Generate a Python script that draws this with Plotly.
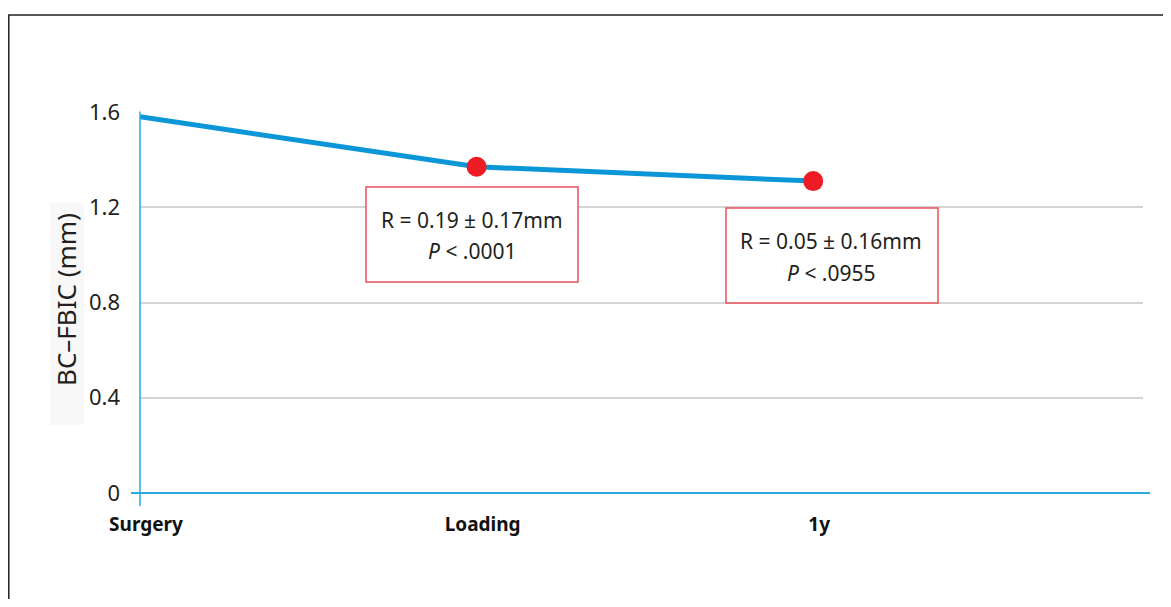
import plotly.graph_objects as go

# ---- data ----
categories = ["Surgery", "Loading", "1y"]
bc_fbic = [1.58, 1.37, 1.31]
dot_categories = ["Loading", "1y"]
dot_values = [1.37, 1.31]
y_ticks = [0, 0.4, 0.8, 1.2, 1.6]
y_tick_labels = ["0", "0.4", "0.8", "1.2", "1.6"]
box_line1 = ["R = 0.19 ± 0.17mm", "R = 0.05 ± 0.16mm"]
box_line2 = ["<i>P</i> < .0001", "<i>P</i> < .0955"]
y_title = "BC–FBIC (mm)"

# ---- layout geometry (screen pixels; page body has an 8px margin) ----
OFF = 8
WIN_W, WIN_H = 1171, 607
W, H = WIN_W - 2 * OFF, WIN_H - 2 * OFF
L, R, T, B = 140, 1143, 112, 493  # plot area in screen pixels


def px(x):
    return (x - L) / (R - L)


def py(y):
    return (B - y) / (B - T)


FONT = "Noto Sans"
TXT = "#231f20"
AXIS_BLUE = "#27aae1"
LINE_BLUE = "#0b96d8"
RED = "#ed1c24"
BOX_RED = "#e9505a"

fig = go.Figure()
fig.add_trace(go.Scatter(
    x=categories, y=bc_fbic, mode="lines",
    line=dict(color=LINE_BLUE, width=5), cliponaxis=False, hoverinfo="skip"))
fig.add_trace(go.Scatter(
    x=dot_categories, y=dot_values, mode="markers",
    marker=dict(color=RED, size=20, line=dict(width=0)), cliponaxis=False))

shapes = []
# outer frame
shapes.append(dict(type="rect", xref="paper", yref="paper",
                   x0=px(8.8), x1=px(1300), y0=py(800), y1=py(15),
                   line=dict(color=TXT, width=1.5), fillcolor="rgba(0,0,0,0)", layer="below"))
# faint background behind y title
shapes.append(dict(type="rect", xref="paper", yref="paper",
                   x0=px(50), x1=px(84), y0=py(425), y1=py(203),
                   line=dict(width=0), fillcolor="#f8f8f8", layer="below"))
# axis lines
shapes.append(dict(type="line", xref="paper", yref="paper",
                   x0=px(140), x1=px(140), y0=py(506), y1=py(111.5),
                   line=dict(color=AXIS_BLUE, width=1.5)))
shapes.append(dict(type="line", xref="paper", yref="paper",
                   x0=px(131), x1=px(1150), y0=py(493), y1=py(493),
                   line=dict(color=AXIS_BLUE, width=2)))
# annotation boxes
boxes = [(366, 578, 187, 282), (726, 938, 208, 303)]
for (x0, x1, y0, y1) in boxes:
    shapes.append(dict(type="rect", xref="paper", yref="paper",
                       x0=px(x0), x1=px(x1), y0=py(y1), y1=py(y0),
                       line=dict(color=BOX_RED, width=1.5), fillcolor="white", layer="above"))

annotations = []
text_centers = [(472, 220, 251), (831, 241, 273)]
for i, (cx, y1c, y2c) in enumerate(text_centers):
    annotations.append(dict(xref="paper", yref="paper", x=px(cx), y=py(y1c),
                            text=box_line1[i], showarrow=False, xanchor="center", yanchor="middle",
                            font=dict(family=FONT, size=21, color=TXT)))
    annotations.append(dict(xref="paper", yref="paper", x=px(cx), y=py(y2c),
                            text=box_line2[i], showarrow=False, xanchor="center", yanchor="middle",
                            font=dict(family=FONT, size=21, color=TXT)))
annotations.append(dict(xref="paper", yref="paper", x=px(66), y=py(300),
                        text=y_title, showarrow=False, textangle=-90,
                        xanchor="center", yanchor="middle",
                        font=dict(family=FONT, size=26, color=TXT)))

fig.update_layout(
    width=W, height=H,
    margin=dict(l=L - OFF, r=(WIN_W - OFF) - R, t=T - OFF, b=(WIN_H - OFF) - B, pad=0),
    paper_bgcolor="white", plot_bgcolor="white",
    showlegend=False,
    font=dict(family=FONT, color=TXT),
    shapes=shapes, annotations=annotations,
    xaxis=dict(type="category", categoryorder="array", categoryarray=categories,
               range=[0, (R - L) / 336.6], showgrid=False, zeroline=False, showline=False,
               ticks="", tickfont=dict(family=FONT, size=19, color="#111", weight="bold"),
               ticklabelstandoff=18, ticklabelshift=6),
    yaxis=dict(range=[0, 1.6], tickvals=y_ticks, ticktext=y_tick_labels,
               showgrid=True, gridcolor="#d4d4d4", gridwidth=1.5,
               zeroline=False, showline=False, ticks="",
               tickfont=dict(family=FONT, size=22, color=TXT), ticklabelstandoff=19),
)

fig.write_html("out.html")
